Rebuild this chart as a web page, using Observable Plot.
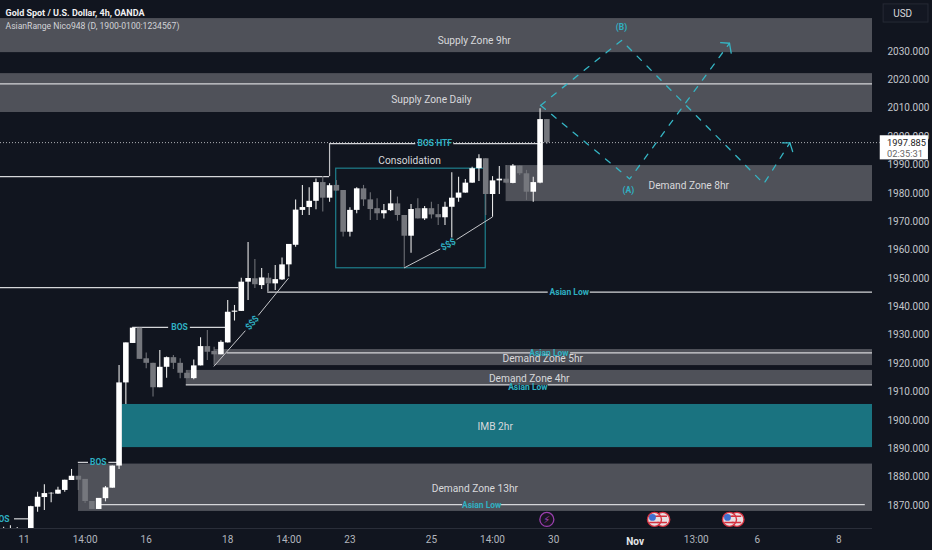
<!DOCTYPE html>
<html><head><meta charset="utf-8">
<script src="https://cdn.jsdelivr.net/npm/d3@7"></script>
<script src="https://cdn.jsdelivr.net/npm/@observablehq/plot@0.6"></script>
<style>html,body{margin:0;padding:0;background:#11151f;overflow:hidden}svg{display:block}</style>
</head><body><div id="c"></div>
<script>
const firstBar = -3;
const open = [1856,1856,1856,1856,
1861,1869.4,1872.8,1874.1,1874.0,1875.3,1878.8,1880.3,1879.2,1871.4,1868.6,1872.4,1876.1,1883.9,1913.2,1927.1,1932.5,1921.7,1920.1,1911.5,1918.7,1922.1,1920.1,1916.6,1914.7,1919.2,1926.0,1924.3,1923.1,1927.3,
1938.1,1938.4,1948.7,1949.9,1947.5,1950.1,1948.1,1949.5,1954.8,1961.7,1974.0,1975.0,1977.2,1983.8,1978.3,1982.8,1981.0,1966.3,1974.0,1981.6,1977.7,1974.6,1972.8,1973.9,1976.3,1972.2,1964.9,1974.6,1971.0,1974.6,1972.5,1971.4,1975.1,1978.3,1980.1,1983.6,1988.7,1992.2,1979.6,1984.4,1985.0,1983.5,1989.6,1986.9,1980.4,1983.6,2006.0];
const close = [1858,1858,1858,1858,
1869.6,1872.9,1874.2,1874.3,1875.4,1878.9,1880.3,1878.9,1871.4,1868.6,1872.5,1876.2,1883.9,1913.2,1927.3,1932.5,1921.5,1920.1,1911.5,1918.7,1922.1,1920.1,1916.6,1914.7,1919.2,1926.0,1924.0,1923.1,1927.5,1938.1,
1938.5,1948.7,1950.0,1947.8,1950.2,1948.1,1949.6,1954.8,1962.0,1974.1,1975.0,1977.2,1983.8,1978.3,1982.7,1980.8,1966.3,1974.0,1981.6,1977.7,1974.3,1972.8,1973.9,1976.3,1972.2,1964.9,1974.3,1971.0,1974.6,1972.4,1971.4,1975.1,1978.3,1980.1,1983.6,1988.7,1992.2,1979.6,1984.4,1985.0,1983.6,1989.6,1986.9,1980.4,1983.8,2006.0,1997.8];
const high = [1862.3,1862.9,1862.2,1860,
1869.7,1874.7,1877.3,1874.5,1876.4,1878.9,1882.7,1880.3,1879.2,1871.4,1872.5,1876.7,1883.9,1919.3,1927.3,1932.5,1932.5,1923.7,1920.1,1924.6,1922.3,1922.9,1921.7,1917.6,1921.3,1929.1,1931.7,1925.8,1928.1,1942.2,
1940.5,1950.1,1962.7,1956.7,1953.5,1951.8,1954.6,1957.2,1962.0,1977.7,1982.8,1982.0,1985.1,1985.9,1983.4,1984.5,1981.0,1974.9,1982.0,1982.8,1980.2,1978.1,1976.1,1981.0,1978.7,1972.2,1976.1,1978.1,1975.4,1976.9,1976.1,1976.9,1987.3,1985.7,1984.9,1989.2,1993.6,1992.2,1985.9,1989.5,1989.8,1990.2,1989.6,1988.1,1985.7,2009.8,2006.0];
const low = [1856,1856,1856,1856,
1855,1867.6,1868.2,1871.0,1874.0,1874.7,1878.8,1875.3,1870.7,1868.6,1868.6,1871.3,1876.1,1882.7,1905.6,1927.1,1921.5,1918.2,1908.2,1911.5,1914.8,1917.9,1914.7,1914.7,1914.3,1919.2,1921.1,1919.3,1923.1,1927.3,
1935.0,1938.4,1942.2,1946.5,1946.1,1945.2,1945.8,1949.3,1950.5,1961.0,1972.2,1972.2,1974.2,1973.4,1976.9,1980.8,1964.6,1964.6,1972.8,1975.4,1970.4,1970.4,1971.0,1973.6,1970.2,1954.0,1958.9,1971.0,1970.4,1971.0,1968.7,1968.7,1964.3,1976.9,1980.0,1983.6,1984.2,1972.2,1971.6,1979.6,1983.4,1983.4,1986.3,1977.5,1976.9,1983.4,1997.2];
const bars = open.map((o,i)=>({bar:firstBar+i,o,c:close[i],h:high[i],l:low[i],up:close[i]>=o}));

const xMin=-3.461, xMax=124.96, yTop=2047.97, yBot=1861.89;
const zoneNames=["Supply Zone 9hr","Supply Zone Daily","Demand Zone 8hr","Demand Zone 5hr","Demand Zone 4hr","Demand Zone 13hr"];
const zoneStart=[xMin,xMin,71.0,28.06,23.9,8.03];
const zoneHigh=[2041.6,2022.2,1989.8,1924.97,1917.6,1884.6];
const zoneLow=[2029.6,2008.5,1977.1,1919.3,1912.3,1867.9];
const zoneLabelBar=[66.3,60.0,97.9,76.4,74.4,66.4];
const zoneLabelPrice=[2033.9,2013.1,1982.8,1921.6,1914.8,1876.0];
const zones=zoneNames.map((n,i)=>({n,x1:zoneStart[i],x2:xMax,y1:zoneLow[i],y2:zoneHigh[i],lx:zoneLabelBar[i],ly:zoneLabelPrice[i]}));
const imb={x1:14.46,x2:xMax,y1:1890.4,y2:1905.6};

// horizontal level segments [from, to, price]
const levels=[
 [xMin,xMax,2018.6],
 [xMin,45,1985.9],[45,57.7,1997.5],[63.3,76,1997.5],
 [xMin,31.6,1946.8],[35.9,77.2,1945.2],[83.4,xMax,1945.2],
 [29.9,74.6,1923.8],[80.5,xMax,1923.8],
 [23.9,71.6,1912.5],[77.2,xMax,1912.5],
 [11.27,64.6,1870.3],[70.2,123.9,1870.3],
 [16,21.3,1932.8],[24.5,30,1932.8],
 [8,9.5,1885.2],[12.5,14,1885.2],
 [-1.4,0.7,1865.3]
].map(([a,b,p])=>({a,b,p}));
const asianBar=[80.3,77.3,74.2,67.4];
const asianPrice=[1945.0,1923.8,1911.7,1870.1];
const bosBar=[22.9,10.93,-3.35];
const bosPrice=[1932.8,1885.2,1865.3];
const dollarSeg=[
 {a:55.96,pa:1953.7,b:61.3,pb:1960.4},{a:63.7,pa:1963.7,b:69.0,pb:1971.7},
 {a:27.95,pa:1919.0,b:32.6,pb:1931.6},{a:34.5,pa:1937.0,b:38.95,pb:1950.1}
];
const pathOne=[[76.07,2011],[88.0,2033.9],[108.95,1983.4],[112.8,1997.8]].map(([x,y])=>({x,y}));
const pathTwo=[[76.1,2011],[89.2,1985.1],[103.9,2032.9]].map(([x,y])=>({x,y}));
const headOne=[[111.66,1997.8],[112.8,1997.8],[113.2,1994.75]].map(([x,y])=>({x,y}));
const headTwo=[[102.6,2033.1],[103.9,2032.9],[104.15,2029.4]].map(([x,y])=>({x,y}));
const xTicks=[0,9,18,30,39,48,60,69,78,90,99,108,120];
const xTickLabels=["11","14:00","16","18","14:00","23","25","14:00","30","","13:00","6","8"];
const yTicks=d3.range(1870,2031,10);
const lastPrice=1997.885;
const flagBars=[92.85,94.07,103.9,105.0];
const flagPrice=1865.1;

const teal="#2fb0c2", txt="#d8d9dc", ff="Roboto";
const chart=Plot.plot({
 width:932,height:550,marginLeft:0,marginRight:60,marginTop:0,marginBottom:22,
 style:{background:"#11151f",color:"#b2b5be"},
 x:{domain:[xMin,xMax],axis:null},
 y:{domain:[yBot,yTop],axis:null},
 marks:[
  Plot.rect(zones,{x1:"x1",x2:"x2",y1:"y1",y2:"y2",fill:"#4f5159"}),
  Plot.rect([imb],{x1:"x1",x2:"x2",y1:"y1",y2:"y2",fill:"#1a7380"}),
  Plot.ruleY([yBot],{x1:xMin,x2:xMax,stroke:"#2a2e39",strokeWidth:1}),
  Plot.axisX({ticks:xTicks,tickFormat:d=>xTickLabels[xTicks.indexOf(d)],tickSize:0,tickPadding:7,fontSize:10,fontFamily:ff,fill:"#b2b5be",stroke:"none",label:null}),
  Plot.text(["Nov"],{x:90,frameAnchor:"bottom",dy:16,fontWeight:700,fontSize:10,fontFamily:ff,fill:"#e6e7ea"}),
  Plot.axisY({anchor:"right",ticks:yTicks,tickFormat:d3.format(".3f"),tickSize:0,tickPadding:15,fontSize:10,fontFamily:ff,fill:"#c3c5cb",stroke:"none",label:null}),
  // levels
  Plot.ruleY(levels,{y:"p",x1:"a",x2:"b",stroke:"#d5d6d9",strokeWidth:1.2}),
  Plot.ruleX([{x:45,a:1985.9,b:1997.5}],{x:"x",y1:"a",y2:"b",stroke:"#c0c1c5",strokeWidth:1.2}),
  Plot.ruleX([{x:35.9,a:1945.2,b:1948}],{x:"x",y1:"a",y2:"b",stroke:"#c0c1c5",strokeWidth:1}),
  Plot.rect([{x1:45.98,x2:68,y1:1953.6,y2:1988.7}],{x1:"x1",x2:"x2",y1:"y1",y2:"y2",fill:"none",stroke:"#1f7f8d",strokeWidth:1.2}),
  Plot.link(dollarSeg,{x1:"a",y1:"pa",x2:"b",y2:"pb",stroke:"#c6c7cb",strokeWidth:1}),
  // candles
  Plot.ruleX(bars,{x:"bar",y1:"l",y2:"h",stroke:d=>d.up?"#e6e6e6":"#6d6f75",strokeWidth:1.1,clip:true}),
  Plot.ruleX(bars,{x:"bar",y1:"o",y2:"c",stroke:d=>d.up?"#ffffff":"#75777d",strokeWidth:5.6,clip:true}),
  // price line
  Plot.ruleY([lastPrice],{x1:xMin,x2:126.1,stroke:"#aeb0b4",strokeWidth:1,strokeDasharray:"1,2"}),
  // projections
  Plot.line(pathOne,{x:"x",y:"y",stroke:"#35b5c4",strokeWidth:1.3,strokeDasharray:"6,8"}),
  Plot.line(pathTwo,{x:"x",y:"y",stroke:"#35b5c4",strokeWidth:1.3,strokeDasharray:"6,8"}),
  Plot.line(headOne,{x:"x",y:"y",stroke:"#35b5c4",strokeWidth:1.3}),
  Plot.line(headTwo,{x:"x",y:"y",stroke:"#35b5c4",strokeWidth:1.3}),
  // zone texts
  Plot.text(zones,{x:"lx",y:"ly",text:"n",fill:txt,fontSize:10.2,fontFamily:ff}),
  Plot.text(["IMB 2hr"],{x:69.4,y:1897.8,fill:txt,fontSize:10.2,fontFamily:ff}),
  Plot.text(["Consolidation"],{x:56.8,y:1991.6,fill:txt,fontSize:10.2,fontFamily:ff}),
  Plot.text(["BOS HTF"],{x:60.5,y:1997.5,fill:teal,fontSize:8.5,fontWeight:700,fontFamily:ff}),
  Plot.text(asianBar.map((x,i)=>({x,y:asianPrice[i]})),{x:"x",y:"y",text:()=>"Asian Low",fill:teal,fontSize:8.5,fontWeight:700,fontFamily:ff}),
  Plot.text(bosBar.map((x,i)=>({x,y:bosPrice[i]})),{x:"x",y:"y",text:()=>"BOS",fill:teal,fontSize:8.5,fontWeight:700,fontFamily:ff}),
  Plot.text([{x:62.5,y:1962,r:-30},{x:33.6,y:1934.4,r:-50}],{x:"x",y:"y",rotate:"r",text:()=>"$$$",fill:teal,fontSize:9,fontWeight:700,fontFamily:ff}),
  Plot.text(["(B)"],{x:88,y:2038.6,fill:teal,fontSize:8.5,fontWeight:700,fontFamily:ff}),
  Plot.text(["(A)"],{x:89,y:1981.2,fill:teal,fontSize:8.5,fontWeight:700,fontFamily:ff}),
  // header
  Plot.text(["Gold Spot / U.S. Dollar, 4h, OANDA"],{x:-2.72,y:2043.7,textAnchor:"start",fill:"#f0f0f2",fontSize:9,fontWeight:700,fontFamily:ff}),
  Plot.text(["AsianRange Nico948 (D, 1900-0100:1234567)"],{x:-2.72,y:2038.8,textAnchor:"start",fill:"#d2d3d7",fontSize:8.6,fontFamily:ff}),
  // USD box
  Plot.rect([{x1:126.6,x2:133.2,y1:2040.2,y2:2046.6}],{x1:"x1",x2:"x2",y1:"y1",y2:"y2",fill:"#131722",stroke:"#262a35"}),
  Plot.text(["USD"],{x:128,y:2043.4,textAnchor:"start",fill:"#d8d9dc",fontSize:10,fontFamily:ff}),
  // price tag
  Plot.rect([{x1:126.1,x2:133.2,y1:1991.8,y2:2000.3}],{x1:"x1",x2:"x2",y1:"y1",y2:"y2",fill:"#ffffff"}),
  Plot.text([d3.format(".3f")(lastPrice)],{x:127.1,y:lastPrice,textAnchor:"start",fill:"#222",fontSize:9.3,fontFamily:ff}),
  Plot.text(["02:35:31"],{x:127.1,y:1993.7,textAnchor:"start",fill:"#666",fontSize:9.3,fontFamily:ff}),
  // events
  Plot.dot([77],{x:d=>d,y:()=>flagPrice,r:7,fill:"#1a1522",stroke:"#9a3fae",strokeWidth:1.3}),
  Plot.text(["\u26A1"],{x:77,y:flagPrice,fill:"#9a3fae",fontSize:10,fontFamily:"'DejaVu Sans'"}),
  Plot.dot(flagBars.slice().reverse(),{x:d=>d,y:()=>flagPrice,r:7,fill:"#e8dfe2",stroke:"#d5303e",strokeWidth:1.4}),
  Plot.ruleY(flagBars,{y:()=>flagPrice-1.1,x1:d=>d-0.7,x2:d=>d+0.7,stroke:"#d5303e",strokeWidth:1.5}),
  Plot.ruleY(flagBars,{y:()=>flagPrice+1.1,x1:d=>d-0.7,x2:d=>d+0.7,stroke:"#d5303e",strokeWidth:1.5}),
  Plot.dot([92.85,103.9],{x:d=>d,y:()=>flagPrice,r:3.4,dx:-2,dy:-2,fill:"#3f6fd0"})
 ]
});
document.getElementById("c").append(chart);
</script></body></html>
